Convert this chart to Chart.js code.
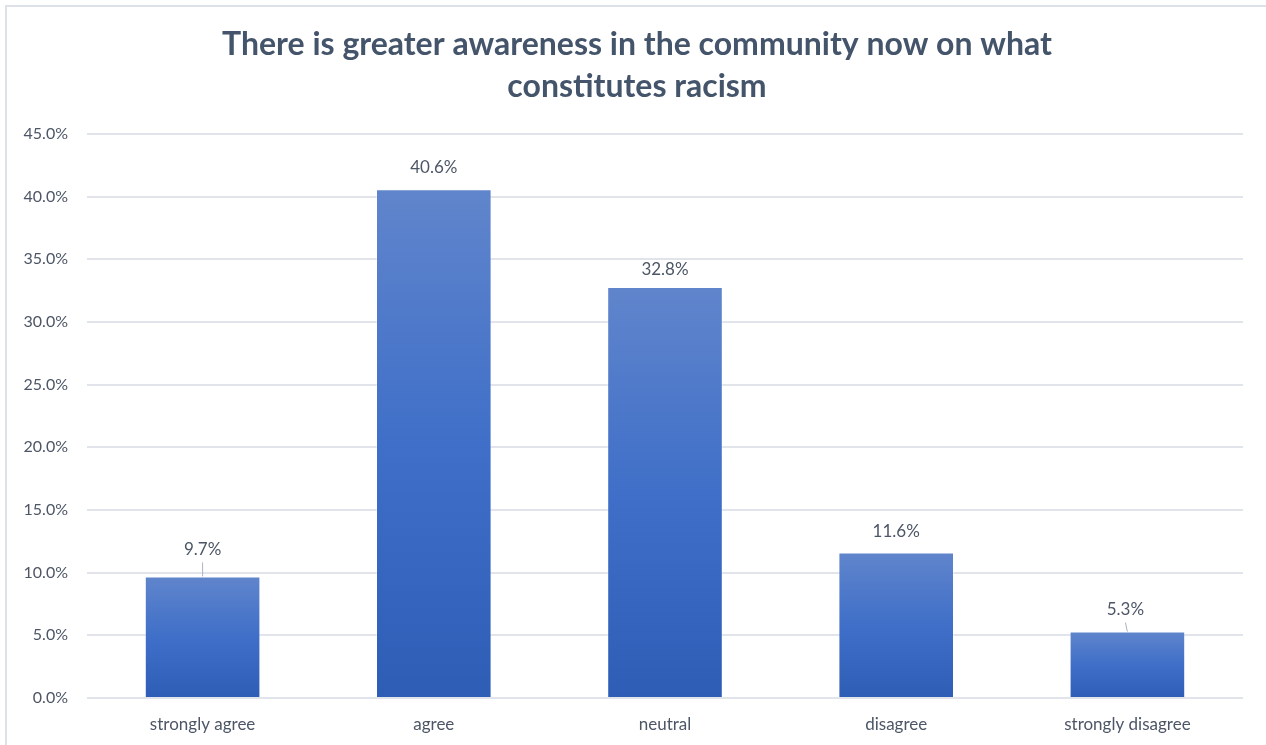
<!DOCTYPE html>
<html>
<head>
<meta charset="utf-8">
<script src="https://cdn.jsdelivr.net/npm/chart.js@4.4.1/dist/chart.umd.min.js"></script>
<style>
  html, body { margin: 0; padding: 0; background: #fff; }
  #wrap { width: 1266px; height: 745px; position: relative; }
</style>
</head>
<body>
<div id="wrap"><canvas id="myChart" width="1266" height="745"></canvas></div>
<script>
var titleLines = ['There is greater awareness in the community now on what', 'constitutes racism'];
var categories = ['strongly agree', 'agree', 'neutral', 'disagree', 'strongly disagree'];
var values = [9.7, 40.6, 32.8, 11.6, 5.3];
var yTicks = [0, 5, 10, 15, 20, 25, 30, 35, 40, 45];

var textColor = '#4d5666';
var fontFamily = 'Lato, "Open Sans", sans-serif';

// gap between bar top and label centre, and which labels get a leader line
var labelGap = [27, 22, 17, 21, 22];
var leader = [true, false, false, false, true];

// vertical gradient spanning each bar from its top down to zero
function barFill(ctx) {
    var chart = ctx.chart;
    if (!chart.chartArea || ctx.dataIndex === undefined) return '#4472C4';
    var y = chart.scales.y;
    var top = y.getPixelForValue(values[ctx.dataIndex]);
    var bottom = y.getPixelForValue(0);
    var g = chart.ctx.createLinearGradient(0, top, 0, bottom);
    g.addColorStop(0, '#6085cc');
    g.addColorStop(0.5, '#3f6fc8');
    g.addColorStop(1, '#2e5db6');
    return g;
}

// white background, thin frame and the two-line heading centred on the whole canvas
var frame = {
    id: 'frame',
    beforeDraw: function(chart) {
        var c = chart.ctx;
        c.save();
        c.fillStyle = '#fff';
        c.fillRect(0, 0, chart.width, chart.height);
        c.strokeStyle = '#dde1e8';
        c.lineWidth = 2;
        c.strokeRect(6, 6, chart.width + 10, chart.height + 10);

        c.font = 'bold 32px ' + fontFamily;
        c.fillStyle = '#44546a';
        c.textAlign = 'center';
        c.textBaseline = 'middle';
        titleLines.forEach(function(line, i) {
            c.fillText(line, 637, 45 + i * 42);
        });
        c.restore();
    }
};

var valueLabels = {
    id: 'valueLabels',
    afterDatasetsDraw: function(chart) {
        var c = chart.ctx;
        var meta = chart.getDatasetMeta(0);
        c.save();
        c.font = '17px ' + fontFamily;
        c.fillStyle = textColor;
        c.textAlign = 'center';
        c.textBaseline = 'middle';
        meta.data.forEach(function(bar, i) {
            var ly = bar.y - labelGap[i];
            var lx = bar.x;
            if (leader[i]) {
                c.strokeStyle = '#a9b3c3';
                c.lineWidth = 1;
                c.beginPath();
                c.moveTo(lx - (i === 4 ? 2 : 0), ly + 13);
                c.lineTo(lx, bar.y);
                c.stroke();
                if (i === 4) lx -= 2;
            }
            c.fillText(values[i].toFixed(1) + '%', lx, ly);
        });
        c.restore();
    }
};

var ctx = document.getElementById('myChart').getContext('2d');
window.myChart = new Chart(ctx, {
    type: 'bar',
    data: {
        labels: categories,
        datasets: [{
            data: values,
            backgroundColor: barFill,
            borderColor: 'rgba(255,255,255,0.35)',
            borderWidth: 1,
            barPercentage: 0.5,
            categoryPercentage: 1
        }]
    },
    options: {
        responsive: false,
        animation: false,
        layout: { padding: { left: 6, right: 23, top: 134, bottom: 0 } },
        plugins: {
            legend: { display: false },
            tooltip: { enabled: false },
            title: { display: false }
        },
        scales: {
            x: {
                grid: { display: false },
                border: { display: false },
                ticks: { color: textColor, font: { family: fontFamily, size: 17 }, padding: 8 },
                afterFit: function(s) { s.height = 47; }
            },
            y: {
                min: 0,
                max: 45,
                afterBuildTicks: function(s) { s.ticks = yTicks.map(function(v) { return { value: v }; }); },
                grid: { color: '#e1e4ea', lineWidth: 2, drawTicks: false },
                border: { display: false },
                ticks: {
                    color: textColor,
                    font: { family: fontFamily, size: 16 },
                    padding: 19,
                    callback: function(v) { return v.toFixed(1) + '%'; }
                },
                afterFit: function(s) { s.width = 81; }
            }
        }
    },
    plugins: [frame, valueLabels]
});
</script>
</body>
</html>
